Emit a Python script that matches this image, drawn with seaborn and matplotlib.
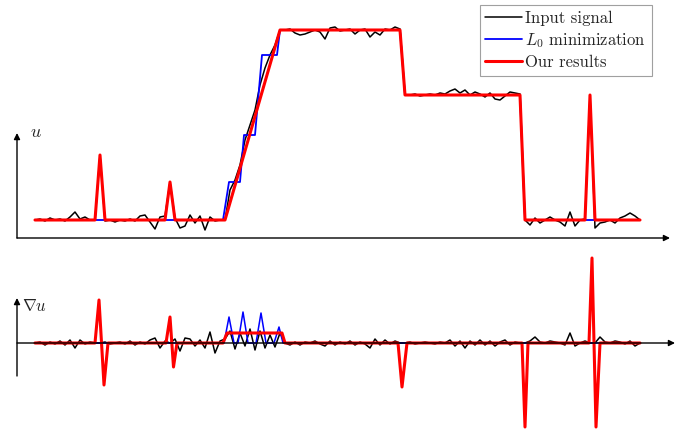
import numpy as np
import matplotlib
matplotlib.use("Agg")
import matplotlib.pyplot as plt
import seaborn as sns

# sample index of every point of the input signal (0..121)
idx = np.arange(122)

# input signal u (noisy)
input_u = [0, 1, -1, 2, 0, 1, -1, 3, 8, 1, 3, 0, 0,
           65,
           -1, 0, -2, 0, -1, 1, -1, 4, 5, -2, -9, 3, 4,
           38,
           2, -8, -6, 5, -3, 4, -10, 3, -1, 0,
           0, 30, 40, 55, 80, 95, 110, 135, 152, 165, 175, 190,
           190, 191, 187, 185, 186, 188, 190, 188, 181, 192, 193, 189,
           190, 191, 186, 190, 191, 183, 188, 185, 191, 190, 193, 191,
           125, 125, 126, 124, 125, 126, 125, 127, 126, 129, 131, 127,
           130, 125, 128, 126, 123, 127, 121, 120, 124, 128, 127, 126,
           0, -5, 2, -3, 0, 3, 0, -2, -6, 8, -6, 0, 1,
           125,
           -8, -3, -2, 0, -3, 2, 4, 7, 4, 0]

# gradient of the input signal
input_g = [0, 1, -2, 1, -1, 2, -2, 3, -5, 3, -1, 1, 0,
           0, 1, -1, 0, 1, -1, 2, -2, 1, -1, 3, 5, -5, 2,
           0, 4, -8, 5, 4, -3, 3, -5, 11, -10, 2,
           4, 12, -6, 10, -3, 14, -7, 12, -5, 8, -4, 10, 0,
           -2, 1, -2, 1, 0, 2, -1, -3, 2, -2, 1, -1, 2, -2, 1, -1,
           -5, 4, -2, 3, -1, 2, 0,
           0, 1, -1, 0, 1, 0, -1, 1, 0, 3, -3, 2, -5, 2, -2, 3,
           -2, 2, -3, 1, 3, -2, 1, 0,
           0, 2, 6, 1, 0, 2, 1, 0, -2, 10, -3, 0, 2, 0, 0, 6,
           1, 0, 2, 1, -1, 2, -3, 0]

# L0 minimization (breakpoints)
l0_x = [0, 37.6, 38.8, 41, 41.8, 44, 45.4, 48.4, 49, 73, 74, 97, 98, 121]
l0_u = [0, 0, 38, 38, 85, 85, 165, 165, 190, 190, 125, 125, 0, 0]
l0_gx = [0, 37.8, 38.8, 39.8, 40.6, 41.6, 42.6, 44.2, 45.2, 46.2, 47.8, 48.8, 49.6, 121]
l0_g = [0, 0, 26, 0, 0, 31, 0, 0, 30, 0, 0, 16, 0, 0]

# our results (breakpoints)
ours_x = [0, 12, 13, 14, 26, 27, 28, 38, 49, 73, 74, 97, 98, 110, 111, 112, 121]
ours_u = [0, 0, 65, 0, 0, 38, 0, 0, 190, 190, 125, 125, 0, 0, 125, 0, 0]
ours_gx = [0, 12, 12.8, 13.8, 14.6, 26.2, 27, 27.7, 28.4, 37.6, 38.4, 49.4, 50,
           72.6, 73.4, 74.4, 97.4, 98, 98.6, 110.8, 111.4, 112.2, 113, 121]
ours_g = [0, 0, 43, -42, 0, 0, 26, -24, 0, 0, 10, 10, 0,
          0, -44, 0, 0, -84, 0, 0, 85, -84, 0, 0]

sns.set_style("white")
plt.rcParams['font.family'] = 'cmr10'
plt.rcParams['mathtext.fontset'] = 'cm'
plt.rcParams['axes.unicode_minus'] = False
plt.rcParams['lines.solid_joinstyle'] = 'round'

fig = plt.figure(figsize=(6.99, 4.34), dpi=100)
ax1 = fig.add_axes([0, 184 / 434, 1, 250 / 434])
ax2 = fig.add_axes([0, 0, 1, 184 / 434])

arrow = dict(arrowstyle='-|>', color='black', lw=1.0, mutation_scale=9,
             shrinkA=0, shrinkB=0)

# top: signal
ax1.annotate('', xy=(-3.6, 87), xytext=(-3.6, -18), arrowprops=arrow)
ax1.annotate('', xy=(127, -18), xytext=(-3.6, -18), arrowprops=arrow)
sns.lineplot(x=idx, y=input_u, ax=ax1, color='black', lw=1.1,
             estimator=None, sort=False, label='Input signal')
sns.lineplot(x=l0_x, y=l0_u, ax=ax1, color='#0000ff', lw=1.3,
             estimator=None, sort=False, label=r'$L_0$ minimization')
sns.lineplot(x=ours_x, y=ours_u, ax=ax1, color='#ff0000', lw=2.2,
             estimator=None, sort=False, label='Our results')
ax1.text(0.2, 88, r'$u$', fontsize=13, ha='center', va='center')
ax1.set_xlim(-7, 132.8)
ax1.set_ylim(-30, 220)
ax1.axis('off')
leg = ax1.legend(loc='upper right', bbox_to_anchor=(652 / 699, 1 - 5 / 434),
                 bbox_transform=fig.transFigure, borderaxespad=0,
                 fancybox=False, frameon=True, fontsize=12, handlelength=2.2,
                 handletextpad=0.2, labelspacing=0.3, borderpad=0.35)
leg.get_frame().set_edgecolor('#888888')
leg.get_frame().set_linewidth(0.8)

# bottom: gradient
ax2.annotate('', xy=(-3.6, 45), xytext=(-3.6, -33), arrowprops=arrow)
ax2.annotate('', xy=(128, 0), xytext=(-3.6, 0), arrowprops=arrow)
sns.lineplot(x=idx, y=input_g, ax=ax2, color='black', lw=1.1,
             estimator=None, sort=False, legend=False)
sns.lineplot(x=l0_gx, y=l0_g, ax=ax2, color='#0000ff', lw=1.1,
             estimator=None, sort=False, legend=False)
sns.lineplot(x=ours_gx, y=ours_g, ax=ax2, color='#ff0000', lw=2.2,
             estimator=None, sort=False, legend=False)
ax2.text(0.0, 37, r'$\nabla u$', fontsize=12, ha='center', va='center')
ax2.set_xlim(-7, 132.8)
ax2.set_ylim(-91, 93)
ax2.axis('off')

fig.savefig('out.png', dpi=100)
